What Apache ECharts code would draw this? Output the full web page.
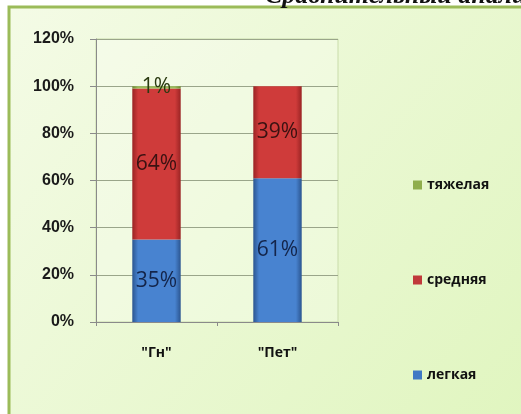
<!DOCTYPE html>
<html>
<head>
<meta charset="utf-8">
<script src="https://cdn.jsdelivr.net/npm/echarts@6/dist/echarts.min.js"></script>
<style>
html,body{margin:0;padding:0;background:#fff;}
#c{width:521px;height:414px;}
</style>
</head>
<body>
<div id="c"></div>
<script>
const categories = ['"Гн"', '"Пет"'];
const seriesNames = ['легкая', 'средняя', 'тяжелая'];
const legkaya = [35, 61];
const srednyaya = [64, 39];
const tyazhelaya = [1, 0];
const yTicks = [0, 20, 40, 60, 80, 100, 120];
const titleText = 'Сравнительный анализ';

function grad(edge, mid) {
  return new echarts.graphic.LinearGradient(0, 0, 1, 0, [
    {offset: 0, color: edge}, {offset: 0.12, color: mid},
    {offset: 0.88, color: mid}, {offset: 1, color: edge}
  ]);
}
const colors = {
  'легкая': grad('#2b5590', '#4883d0'),
  'средняя': grad('#9a2424', '#cf3b3a'),
  'тяжелая': grad('#6e8a30', '#9bbb59')
};
const legendIcon = {'легкая': '#3f78c4', 'средняя': '#c0393a', 'тяжелая': '#8fae4c'};
const dataMap = {'легкая': legkaya, 'средняя': srednyaya, 'тяжелая': tyazhelaya};

const chart = echarts.init(document.getElementById('c'), null, {renderer: 'canvas'});
chart.setOption({
  animation: false,
  graphic: [
    {type: 'rect', z: -10, shape: {x: 9, y: 7, width: 540, height: 440},
     style: {fill: new echarts.graphic.LinearGradient(0, 0, 1, 1, [
       {offset: 0, color: '#f4fbe6'}, {offset: 1, color: '#dff5bd'}]),
       stroke: '#9bbb59', lineWidth: 3}},
    {type: 'text', left: 265, top: -17,
     style: {text: titleText, font: 'italic bold 26px "Liberation Serif"', fill: '#111'}}
  ],
  grid: {left: 96, right: 183, top: 39, bottom: 92, show: true,
         backgroundColor: 'rgba(255,255,255,0.25)', borderColor: '#c9dcaa', borderWidth: 1},
  legend: {
    orient: 'vertical', left: 408, top: 173,
    data: ['тяжелая', 'средняя', 'легкая'].map(n => ({name: n, itemStyle: {color: legendIcon[n]}})),
    itemWidth: 9, itemHeight: 9, itemGap: 81, icon: 'rect',
    textStyle: {fontFamily: 'Open Sans', fontWeight: 'bold', fontSize: 14, color: '#111'}
  },
  xAxis: {
    type: 'category', data: categories,
    axisLine: {show: true, lineStyle: {color: '#8a8a8a'}},
    axisTick: {show: true, alignWithLabel: false, length: 4, lineStyle: {color: '#8a8a8a'}},
    axisLabel: {margin: 24, fontFamily: 'Open Sans', fontWeight: 'bold', fontSize: 14, color: '#111'}
  },
  yAxis: {
    type: 'value', min: yTicks[0], max: yTicks[yTicks.length - 1], interval: 20,
    axisLine: {show: true, lineStyle: {color: '#8a8a8a'}},
    axisTick: {show: true, length: 6, inside: false, lineStyle: {color: '#8a8a8a'}},
    splitLine: {lineStyle: {color: '#9aa58a', width: 1}},
    axisLabel: {margin: 22, formatter: v => v + '%', fontFamily: 'Liberation Sans',
                fontWeight: 'bold', fontSize: 16, color: '#1a1a1a'}
  },
  series: seriesNames.map(n => ({
    name: n, type: 'bar', stack: 'all', barWidth: '40%',
    data: dataMap[n],
    itemStyle: {color: colors[n]},
    label: {show: true, position: 'inside', fontFamily: 'Open Sans', fontSize: 21,
            color: n === 'легкая' ? '#14254a' : (n === 'средняя' ? '#3a1212' : '#2a3a10'),
            formatter: p => p.value ? p.value + '%' : ''}
  }))
});
</script>
</body>
</html>
